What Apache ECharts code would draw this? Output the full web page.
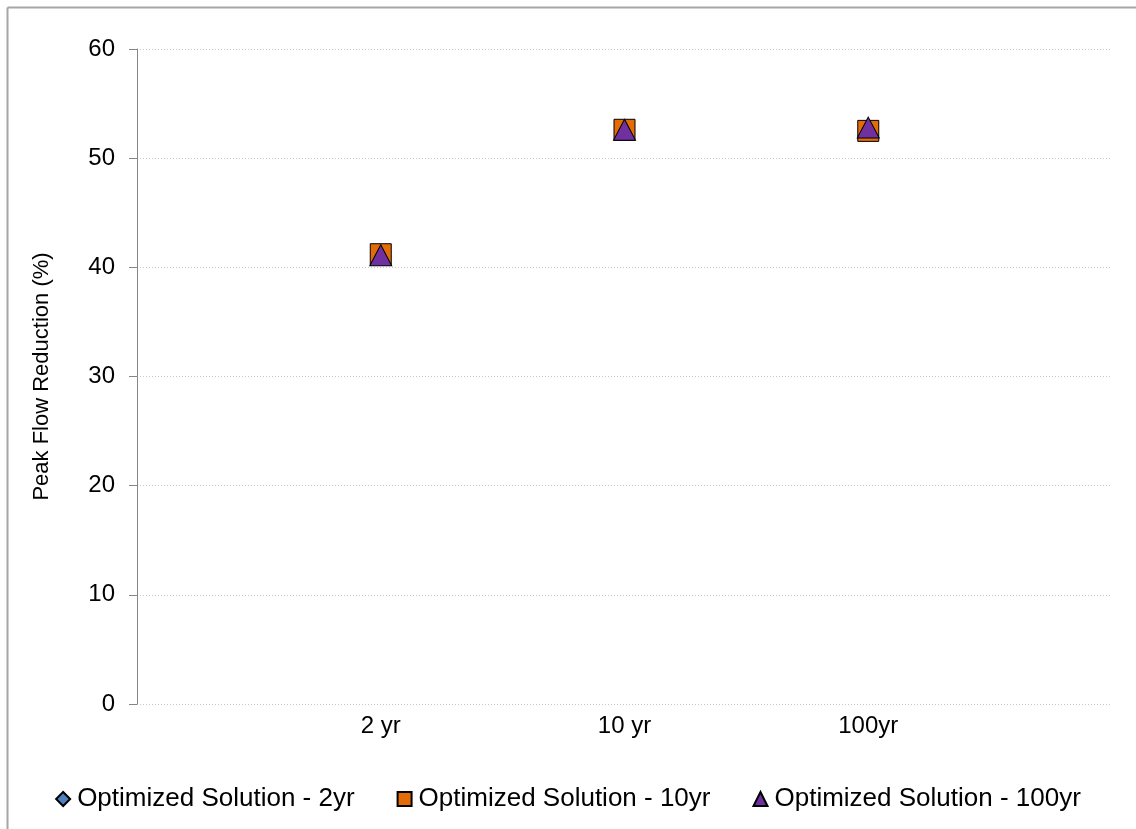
<!DOCTYPE html>
<html><head><meta charset="utf-8">
<script src="https://cdn.jsdelivr.net/npm/echarts@6/dist/echarts.min.js"></script>
<style>html,body{margin:0;padding:0;background:#fff}#c{width:1136px;height:829px}</style>
</head><body><div id="c"></div>
<script>
const categories = ['2 yr', '10 yr', '100yr'];
const seriesNames = ['Optimized Solution - 2yr', 'Optimized Solution - 10yr', 'Optimized Solution - 100yr'];
const values2yr = [41.2, 52.6, 52.6];
const values10yr = [41.2, 52.6, 52.5];
const values100yr = [41.1, 52.6, 52.8];
const yTicks = [0, 10, 20, 30, 40, 50, 60];

const colors = ['#4F81BD', '#E36C09', '#7030A0'];
const symbols = ['diamond', 'rect', 'triangle'];
const sizes = [[14, 20], [21, 21], [22, 21]];
const allVals = [values2yr, values10yr, values100yr];

const chart = echarts.init(document.getElementById('c'));
const font = 'Liberation Sans, Arial, sans-serif';
chart.setOption({
  animation: false,
  grid: {left: 137, right: 24, top: 49, bottom: 125},
  xAxis: {
    type: 'value', min: 0, max: categories.length + 1, interval: 1,
    axisLine: {show: false}, axisTick: {show: false}, splitLine: {show: false},
    axisLabel: {
      fontSize: 24, color: '#000', fontFamily: font, margin: 10,
      formatter: v => (v >= 1 && v <= categories.length) ? categories[v - 1] : ''
    }
  },
  yAxis: {
    type: 'value', min: yTicks[0], max: yTicks[yTicks.length - 1], interval: 10,
    name: 'Peak Flow Reduction (%)', nameLocation: 'middle', nameGap: 84,
    nameTextStyle: {fontSize: 22, color: '#000', fontFamily: font},
    axisLine: {show: true, lineStyle: {color: '#868686', width: 1}},
    axisTick: {show: true, length: 8, lineStyle: {color: '#868686'}},
    axisLabel: {fontSize: 24, color: '#000', fontFamily: font, margin: 22},
    splitLine: {show: true, lineStyle: {color: '#c8c8c8', type: [1, 2], width: 1}}
  },
  legend: {
    bottom: 12, left: 'center', itemGap: 42, itemWidth: 14, itemHeight: 14,
    textStyle: {fontSize: 26, color: '#000', fontFamily: font, padding: [0, 0, 0, 2]},
    data: seriesNames.map((n, i) => ({name: n, icon: symbols[i]}))
  },
  graphic: [
    {type: 'line', shape: {x1: 7.5, y1: 7.5, x2: 1136, y2: 7.5}, style: {stroke: '#a6a6a6', lineWidth: 2}},
    {type: 'line', shape: {x1: 7.5, y1: 7.5, x2: 7.5, y2: 829}, style: {stroke: '#a6a6a6', lineWidth: 2}}
  ],
  series: seriesNames.map((n, i) => ({
    name: n, type: 'scatter', symbol: symbols[i], symbolSize: sizes[i],
    itemStyle: {color: colors[i], borderColor: '#000', borderWidth: 1, opacity: 1},
    data: allVals[i].map((v, k) => [k + 1, v])
  }))
});
</script></body></html>
